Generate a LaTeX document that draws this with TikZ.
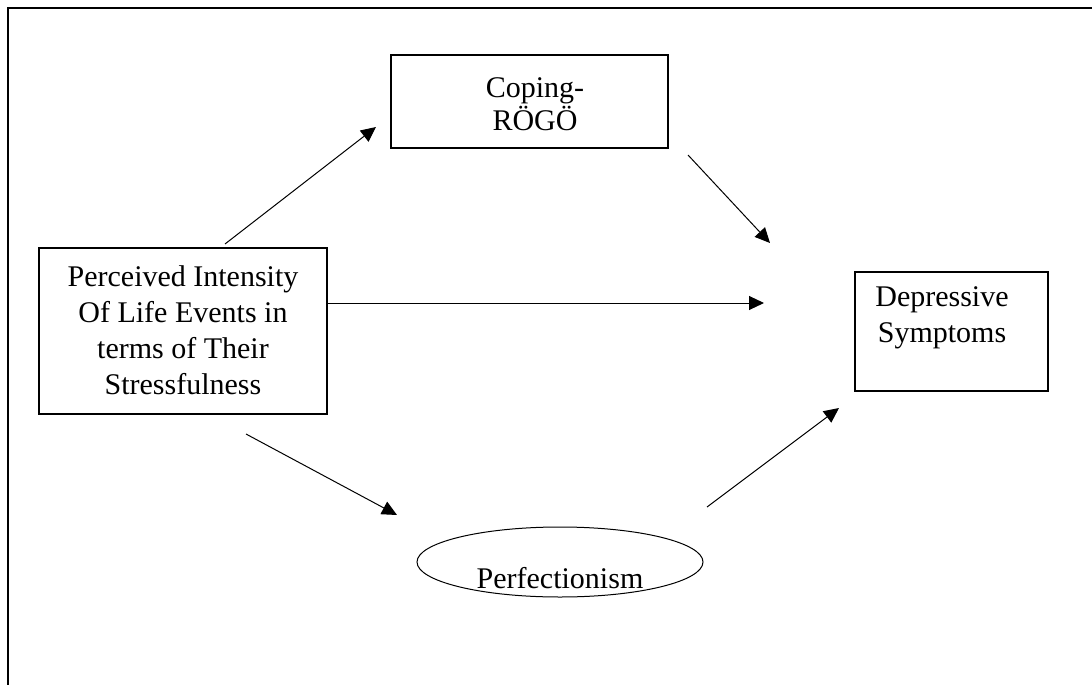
\documentclass[tikz,border=0pt]{standalone}
\usepackage{fontspec}
\setmainfont{Liberation Serif}
\usetikzlibrary{arrows.meta}
\begin{document}
\begin{tikzpicture}[x=1pt,y=-1pt,
  boxst/.style={draw,line width=1.4pt,inner sep=0pt},
  txt/.style={align=center,font=\fontsize{30}{36}\selectfont,inner sep=0pt},
  arr/.style={line width=1pt,-{Triangle[length=15pt,width=14pt]}}]
\useasboundingbox (0,0) rectangle (1092,685);
\draw[line width=1.8pt] (8,685) -- (8,8) -- (1092,8);
% boxes
\node[boxst,minimum width=277pt,minimum height=93pt] (cop) at (529.5,101.5) {};
\node[boxst,minimum width=288pt,minimum height=166pt] (perc) at (183,331) {};
\node[boxst,minimum width=193pt,minimum height=119pt] (dep) at (951.5,331.5) {};
\draw[line width=1pt] (560,562) ellipse [x radius=143, y radius=35];
\coordinate (perf) at (560,562);
% texts
\node[txt,font=\fontsize{30}{33}\selectfont] (copt) at (535,104) {Coping-\\RÖGÖ};
\node[txt] (perct) at (183,330) {Perceived Intensity\\Of Life Events in\\terms of Their\\Stressfulness};
\node[txt] (dept) at (942,318) {Depressive\\Symptoms};
\node[txt] (perft) at (560,578) {Perfectionism};
% connector end points
\coordinate (a1s) at (225,244);
\coordinate (a1e) at (376,127);
\coordinate (a2s) at (688,155);
\coordinate (a2e) at (770,243);
\coordinate (a3s) at (327,303);
\coordinate (a3e) at (764,303);
\coordinate (a4s) at (246,434);
\coordinate (a4e) at (397,515);
\coordinate (a5s) at (707,507);
\coordinate (a5e) at (839,408);
\draw[arr] (a1s) -- (a1e);
\draw[arr] (a2s) -- (a2e);
\draw[arr] (a3s) -- (a3e);
\draw[arr] (a4s) -- (a4e);
\draw[arr] (a5s) -- (a5e);
\end{tikzpicture}
\end{document}
